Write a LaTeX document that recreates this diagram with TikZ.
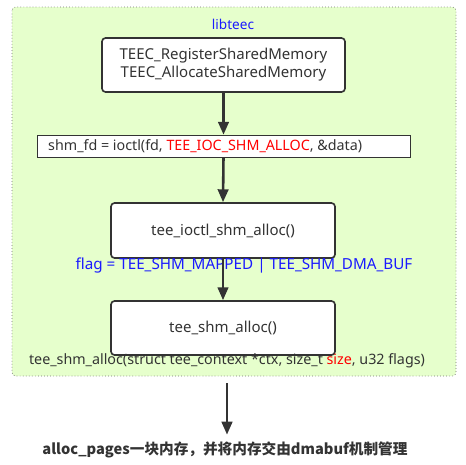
\documentclass[tikz,border=0pt]{standalone}
\usepackage{fontspec}
\setmainfont{Noto Sans}
\newfontfamily\cjk{Noto Sans CJK SC}
\usetikzlibrary{arrows.meta,positioning}
\definecolor{pane}{HTML}{E6FFCC}
\definecolor{ink}{HTML}{333333}
\definecolor{tagblue}{HTML}{1A1AFF}
\definecolor{hot}{HTML}{FF0000}

\begin{document}
\begin{tikzpicture}[x=0.03cm,y=-0.03cm,
    callbox/.style={draw=ink,line width=1.4pt,rounded corners=3pt,fill=white,
      text=ink,font=\fontsize{12.8}{15.5}\selectfont,inner sep=0pt},
    cmdbox/.style={draw=ink,line width=0.5pt,fill=white,inner sep=0pt},
    flow/.style={draw=ink,line width=2.2pt,-{Triangle[width=9pt,length=11pt]}},
    note/.style={inner sep=0pt}]
  \useasboundingbox (0,0) rectangle (466,464);
  % libteec pane
  \draw[black!55,dotted,line width=0.6pt,fill=pane,rounded corners=3pt] (12,7) rectangle (456,376);
  \node[note,text=tagblue,font=\fontsize{11.6}{13}\selectfont] (lib) at (233,24) {libteec};
  % boxes
  \node[callbox,minimum width=243*0.03cm,minimum height=54*0.03cm,align=center] (reg) at (223.5,65)
    {TEEC\_RegisterSharedMemory\\TEEC\_AllocateSharedMemory};
  \node[cmdbox,minimum width=373*0.03cm,minimum height=22*0.03cm] (ioctl) at (223.5,146) {};
  \node[note,text=ink,anchor=west,font=\fontsize{12.2}{14}\selectfont] (ioctltxt) at (48,146)
    {shm\_fd = ioctl(fd, \textcolor{hot}{TEE\_IOC\_SHM\_ALLOC}, \&data)};
  \node[callbox,minimum width=224*0.03cm,minimum height=55*0.03cm] (ioalloc) at (223,230.5)
    {tee\_ioctl\_shm\_alloc()};
  \node[note,text=tagblue,font=\fontsize{13}{15}\selectfont] (flag) at (244,266)
    {flag = TEE\_SHM\_MAPPED | TEE\_SHM\_DMA\_BUF};
  \node[callbox,minimum width=224*0.03cm,minimum height=54*0.03cm] (shmalloc) at (223,328)
    {tee\_shm\_alloc()};
  \node[note,text=ink,font=\fontsize{12.2}{14}\selectfont] (proto) at (227,361)
    {tee\_shm\_alloc(struct tee\_context *ctx, size\_t \textcolor{hot}{\textbf{size}}, u32 flags)};
  \coordinate (out) at (227,383);
  \node[note,text=ink,font=\cjk\bfseries\fontsize{12.5}{14}\selectfont] (pages) at (225,450)
    {alloc\_pages一块内存，并将内存交由dmabuf机制管理};
  % arrows
  \draw[flow] (reg.south) -- (ioctl.north);
  \draw[flow] (ioctl.south) -- (ioalloc.north);
  \draw[flow] (ioalloc.south) -- (shmalloc.north);
  \draw[flow] (out) -- ([yshift=6pt]pages.north -| out);
\end{tikzpicture}
\end{document}
